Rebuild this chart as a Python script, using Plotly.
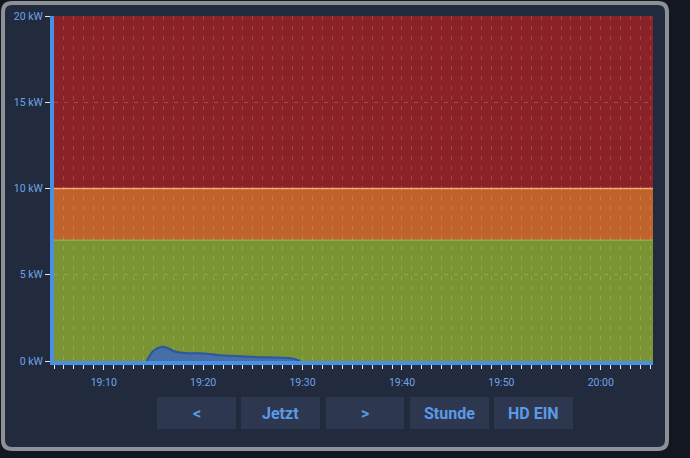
import plotly.graph_objects as go

# ---- data ----
times = ["2023-01-01 19:14:20", "2023-01-01 19:15:00", "2023-01-01 19:16:00",
         "2023-01-01 19:16:40", "2023-01-01 19:17:10", "2023-01-01 19:18:20",
         "2023-01-01 19:20:00", "2023-01-01 19:21:40", "2023-01-01 19:25:00",
         "2023-01-01 19:29:00", "2023-01-01 19:29:45"]
power_kw = [0.0, 0.6, 0.83, 0.68, 0.55, 0.45, 0.44, 0.33, 0.24, 0.15, 0.0]

band_lower = [0, 7, 10]
band_upper = [7, 10, 20]
band_colors = ["#7a9434", "#c0622c", "#8a2228"]
band_edge_colors = ["#8fab3e", "#f2a45e", "#8a2228"]

y_ticks = [0, 5, 10, 15, 20]
y_labels = ["0 kW", "5 kW", "10 kW", "15 kW", "20 kW"]
x_range = ["2023-01-01 19:05:00", "2023-01-01 20:05:15"]
buttons = ["<", "Jetzt", ">", "Stunde", "HD EIN"]

# ---- layout geometry (pixels) ----
W, H = 690, 458
L, R, T, B = 54, 653, 16, 361
pw, ph = R - L, B - T

def px(x):
    return (x - L) / pw

def py(y):
    return (B - y) / ph

fig = go.Figure()

fig.add_trace(go.Scatter(
    x=times, y=power_kw, mode="lines", line=dict(color="#2c55a3", width=2, shape="spline", smoothing=0.8),
    fill="tozeroy", fillcolor="#456fa6", hoverinfo="skip", showlegend=False))

shapes = []
# frame
fx0, fx1, fy0, fy1 = px(3), px(667), py(3), py(449)
rx, ry = 9 / pw, 9 / ph
path = (f"M {fx0+rx},{fy0} L {fx1-rx},{fy0} Q {fx1},{fy0} {fx1},{fy0-ry} "
        f"L {fx1},{fy1+ry} Q {fx1},{fy1} {fx1-rx},{fy1} L {fx0+rx},{fy1} "
        f"Q {fx0},{fy1} {fx0},{fy1+ry} L {fx0},{fy0-ry} Q {fx0},{fy0} {fx0+rx},{fy0} Z")
shapes.append(dict(type="path", xref="paper", yref="paper", path=path,
                   fillcolor="#222a3d", line=dict(color="#8d9096", width=4), layer="below"))
# bands
for lo, hi, c, ec in zip(band_lower, band_upper, band_colors, band_edge_colors):
    shapes.append(dict(type="rect", xref="paper", yref="y", x0=0, x1=1, y0=lo, y1=hi,
                       fillcolor=c, line=dict(width=0), layer="below"))
for hi, ec in zip(band_upper[:2], band_edge_colors[:2]):
    shapes.append(dict(type="line", xref="paper", yref="y", x0=0, x1=1, y0=hi, y1=hi,
                       line=dict(color=ec, width=1.5), layer="below"))

# buttons
bx = [(157, 236), (241, 320), (326, 404), (410, 489), (494, 573)]
annotations = []
by0, by1 = py(397), py(429)
for (a, b), label in zip(bx, buttons):
    shapes.append(dict(type="rect", xref="paper", yref="paper", x0=px(a), x1=px(b), y0=by1, y1=by0,
                       fillcolor="#2d3750", line=dict(width=0), layer="below"))
    annotations.append(dict(xref="paper", yref="paper", x=(px(a) + px(b)) / 2, y=(by0 + by1) / 2,
                            text=f"<b>{label}</b>", showarrow=False,
                            font=dict(family="Roboto", size=16, color="#5b9ae6"),
                            xanchor="center", yanchor="middle"))

fig.update_layout(
    width=W, height=H,
    margin=dict(l=L, r=W - R, t=T, b=H - B, pad=0, autoexpand=False),
    paper_bgcolor="#131820", plot_bgcolor="rgba(0,0,0,0)",
    shapes=shapes, annotations=annotations,
    xaxis=dict(type="date", range=x_range, dtick=600000, tickformat="%H:%M",
               showline=True, linecolor="#4a90e2", linewidth=4, automargin=False,
               ticks="outside", ticklen=5, tickcolor="#e6e6e6", tickwidth=1,
               ticklabelstandoff=3,
               tickfont=dict(family="Roboto", size=10.5, color="#6ea4e8"),
               showgrid=True, gridcolor="rgba(255,255,255,0.16)", griddash="4px,6px", gridwidth=1,
               minor=dict(dtick=60000, ticks="outside", ticklen=4, tickcolor="#e6e6e6",
                          showgrid=True, gridcolor="rgba(255,255,255,0.16)", griddash="4px,6px"),
               zeroline=False, fixedrange=True),
    yaxis=dict(range=[0, 20], tickvals=y_ticks, ticktext=y_labels,
               showline=True, linecolor="#4a90e2", linewidth=4, automargin=False,
               ticks="outside", ticklen=5, tickcolor="#e6e6e6",
               ticklabelstandoff=0,
               tickfont=dict(family="Roboto", size=10.5, color="#6ea4e8"),
               showgrid=True, gridcolor="rgba(255,255,255,0.18)", griddash="4px,6px",
               zeroline=False, fixedrange=True),
)

fig.write_html("out.html", config={"displayModeBar": False},
               post_script="document.body.style.margin='0';document.body.style.padding='0';")
